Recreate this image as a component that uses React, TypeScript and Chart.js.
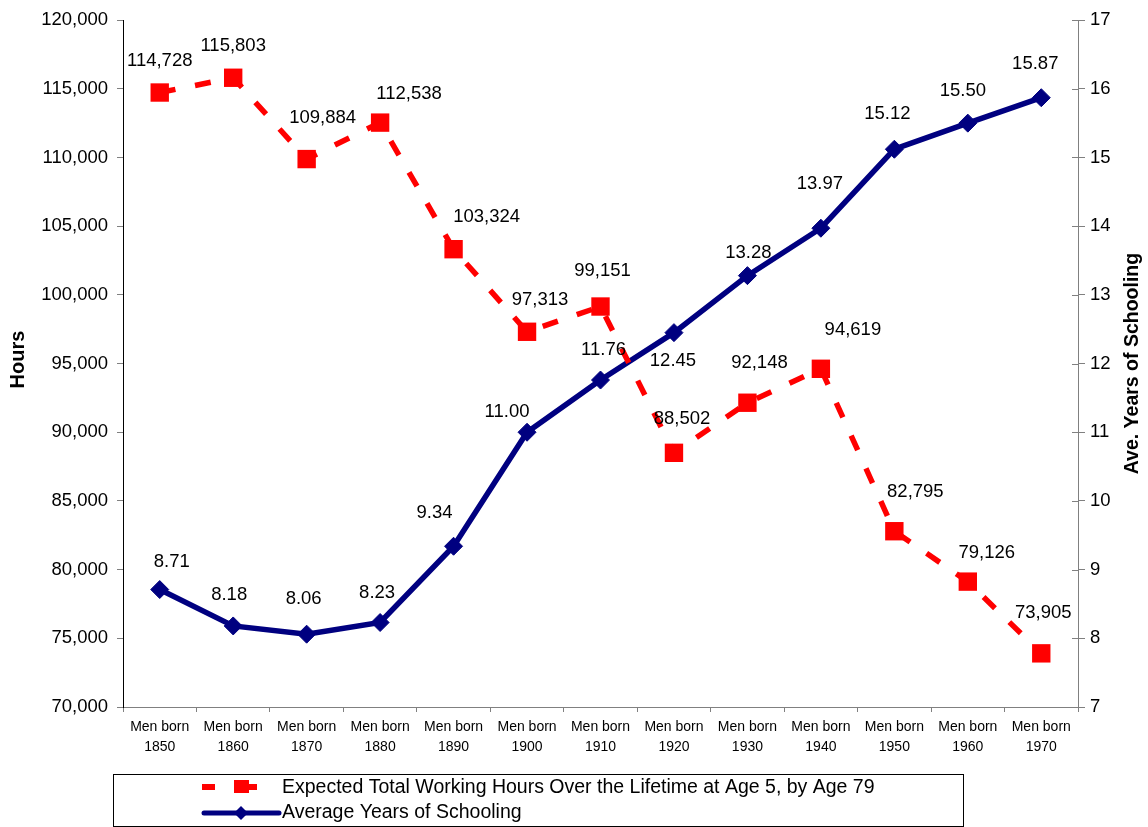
import { useEffect, useRef } from "react";
import { Chart, registerables } from "chart.js";

Chart.register(...registerables);

// ─── Data ─────────────────────────────────────────────────────────────────────
const birthYears = ["1850", "1860", "1870", "1880", "1890", "1900", "1910", "1920", "1930", "1940", "1950", "1960", "1970"];
const workingHours = [114728, 115803, 109884, 112538, 103324, 97313, 99151, 88502, 92148, 94619, 82795, 79126, 73905];
const schoolingYears = [8.71, 8.18, 8.06, 8.23, 9.34, 11.0, 11.76, 12.45, 13.28, 13.97, 15.12, 15.5, 15.87];

const hoursAxis = { min: 70000, max: 120000, step: 5000 };
const yearsAxis = { min: 7, max: 17, step: 1 };

const hoursLabel = "Expected Total Working Hours Over the Lifetime at Age 5, by Age 79";
const schoolingLabel = "Average Years of Schooling";

// label placement relative to each point (px)
const hoursLabelNudge = [[0, -32], [0, -32], [16, -41], [29, -29], [33, -32], [13, -32], [2, -36], [8, -34], [12, -40], [32, -39], [21, -39], [19, -29], [2, -40]];
const yearsLabelNudge = [[12, -28], [-4, -31], [-3, -35], [-3, -30], [-19, -33], [-20, -20], [3, -30], [-1, 28], [1, -23], [-1, -44], [-7, -35], [-5, -32], [-6, -34]];

// ─── Styling ──────────────────────────────────────────────────────────────────
const FONT = "'Liberation Sans', Arial, sans-serif";
const RED = "#FF0000";
const NAVY = "#000080";

const decorPlugin = {
  id: "decor",
  afterDraw(chart: any) {
    const { ctx, chartArea, scales } = chart;
    ctx.save();

    // inner half of the right-axis tick marks
    const y1 = scales.y1;
    ctx.strokeStyle = "#808080";
    ctx.lineWidth = 1;
    y1.ticks.forEach((t: any) => {
      const py = Math.round(y1.getPixelForValue(t.value)) + 0.5;
      ctx.beginPath();
      ctx.moveTo(chartArea.right - 6, py);
      ctx.lineTo(chartArea.right, py);
      ctx.stroke();
    });

    // data labels
    ctx.font = `18.5px ${FONT}`;
    ctx.fillStyle = "#000";
    ctx.textAlign = "center";
    ctx.textBaseline = "middle";
    const labelSets = [
      { idx: 0, values: workingHours, fmt: (v: number) => v.toLocaleString("en-US"), nudge: hoursLabelNudge },
      { idx: 1, values: schoolingYears, fmt: (v: number) => v.toFixed(2), nudge: yearsLabelNudge },
    ];
    labelSets.forEach((s) => {
      chart.getDatasetMeta(s.idx).data.forEach((pt: any, i: number) => {
        const [dx, dy] = s.nudge[i];
        ctx.fillText(s.fmt(s.values[i]), pt.x + dx, pt.y + dy);
      });
    });

    // axis titles
    const midY = (chartArea.top + chartArea.bottom) / 2;
    ctx.font = `bold 20px ${FONT}`;
    ctx.save();
    ctx.translate(18, midY - 4);
    ctx.rotate(-Math.PI / 2);
    ctx.fillText("Hours", 0, 0);
    ctx.restore();
    ctx.font = `bold 19.5px ${FONT}`;
    ctx.save();
    ctx.translate(1133, midY);
    ctx.rotate(-Math.PI / 2);
    ctx.fillText("Ave. Years of Schooling", 0, 0);
    ctx.restore();

    // legend
    const bx = 113, by = 774, bw = 850, bh = 52;
    ctx.strokeStyle = "#000";
    ctx.lineWidth = 1;
    ctx.strokeRect(bx + 0.5, by + 0.5, bw, bh);

    const row1 = by + 13, row2 = by + 39;
    ctx.strokeStyle = RED;
    ctx.lineWidth = 6;
    ctx.beginPath();
    ctx.moveTo(202, row1); ctx.lineTo(215, row1);
    ctx.moveTo(234, row1); ctx.lineTo(257, row1);
    ctx.stroke();
    ctx.fillStyle = RED;
    ctx.fillRect(234, row1 - 7, 15, 13);

    ctx.strokeStyle = NAVY;
    ctx.lineWidth = 5;
    ctx.lineCap = "round";
    ctx.beginPath();
    ctx.moveTo(204, row2); ctx.lineTo(279, row2);
    ctx.stroke();
    ctx.fillStyle = NAVY;
    ctx.beginPath();
    ctx.moveTo(241 - 7, row2); ctx.lineTo(241, row2 - 7); ctx.lineTo(241 + 7, row2); ctx.lineTo(241, row2 + 7);
    ctx.closePath();
    ctx.fill();

    ctx.fillStyle = "#000";
    ctx.font = `19.5px ${FONT}`;
    ctx.textAlign = "left";
    ctx.fillText(hoursLabel, 282, row1 + 1);
    ctx.fillText(schoolingLabel, 282, row2);

    ctx.restore();
  },
};

// ─── Component ────────────────────────────────────────────────────────────────
export default function App() {
  const canvasRef = useRef<HTMLCanvasElement | null>(null);
  const chartRef = useRef<any>(null);

  useEffect(() => {
    if (!canvasRef.current) return;
    if (chartRef.current) chartRef.current.destroy();

    chartRef.current = new Chart(canvasRef.current, {
      type: "line",
      data: {
        labels: birthYears.map((y) => ["Men born", y]),
        datasets: [
          {
            label: hoursLabel,
            data: workingHours,
            yAxisID: "y",
            borderColor: RED,
            borderWidth: 5.5,
            borderDash: [16, 20],
            pointStyle: "rect",
            pointRadius: 13,
            pointBackgroundColor: RED,
            pointBorderColor: RED,
            pointBorderWidth: 0,
            tension: 0,
            fill: false,
          },
          {
            label: schoolingLabel,
            data: schoolingYears,
            yAxisID: "y1",
            borderColor: NAVY,
            borderWidth: 5.5,
            pointStyle: "rectRot",
            pointRadius: 9,
            pointBackgroundColor: NAVY,
            pointBorderColor: NAVY,
            pointBorderWidth: 1,
            tension: 0,
            fill: false,
          },
        ],
      },
      options: {
        responsive: true,
        maintainAspectRatio: false,
        animation: false,
        layout: { padding: { top: 20, bottom: 70, left: 0, right: 0 } },
        plugins: {
          legend: { display: false },
          tooltip: { enabled: false },
        },
        scales: {
          x: {
            offset: true,
            grid: { offset: true, drawOnChartArea: false, drawTicks: true, tickLength: 5, color: "#808080" },
            border: { display: true, color: "#808080" },
            ticks: {
              autoSkip: false,
              maxRotation: 0,
              padding: 5,
              color: "#000",
              font: { family: FONT, size: 14, lineHeight: 1.43 },
            },
            afterFit: (s: any) => { s.height = 50; },
          },
          y: {
            position: "left",
            min: hoursAxis.min,
            max: hoursAxis.max,
            grid: { drawOnChartArea: false, tickLength: 6, color: "#808080" },
            border: { display: true, color: "#000" },
            ticks: {
              stepSize: hoursAxis.step,
              padding: 9,
              color: "#000",
              font: { family: FONT, size: 18.5 },
              callback: (v: any) => Number(v).toLocaleString("en-US"),
            },
            afterFit: (s: any) => { s.width = 123; },
          },
          y1: {
            position: "right",
            min: yearsAxis.min,
            max: yearsAxis.max,
            grid: { drawOnChartArea: false, tickLength: 7, color: "#808080" },
            border: { display: true, color: "#808080" },
            ticks: {
              stepSize: yearsAxis.step,
              padding: 5,
              color: "#000",
              font: { family: FONT, size: 18.5 },
            },
            afterFit: (s: any) => { s.width = 70; },
          },
        },
      },
      plugins: [decorPlugin],
    });

    return () => { if (chartRef.current) chartRef.current.destroy(); };
  }, []);

  return (
    <>
      <style>{`
        html, body { margin: 0; padding: 0; background: #FFFFFF; }
      `}</style>
      <div style={{ position: "relative", width: 1148, height: 827 }}>
        <canvas ref={canvasRef} />
      </div>
    </>
  );
}
